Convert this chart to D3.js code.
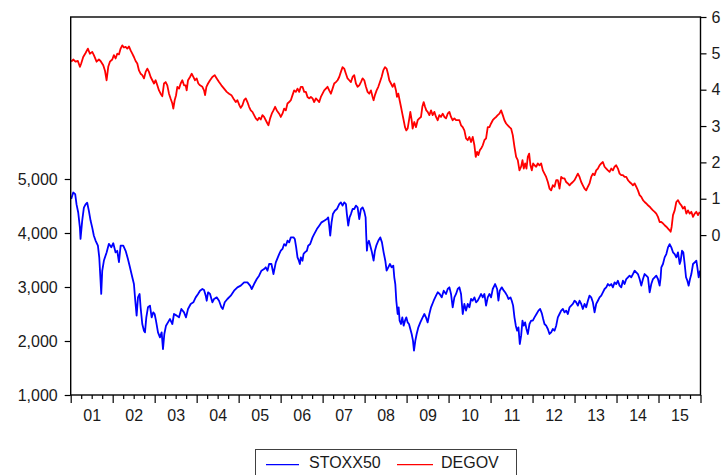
<!DOCTYPE html>
<html><head><meta charset="utf-8">
<script src="https://cdn.jsdelivr.net/npm/d3@7"></script>
<style>
body{margin:0;background:#fff;}
svg text{font-family:"Liberation Sans",Arial,sans-serif;}
</style>
</head><body>
<svg id="chart" width="721" height="475"></svg>
<script>
// ---- data (decimal years / values) ----
const stoxxDates = [
2001.012,2001.060,2001.107,2001.139,2001.179,2001.219,2001.234,2001.274,2001.314,2001.354,2001.393,2001.433,2001.473,2001.513,2001.552,2001.592,2001.648,2001.680,2001.711,2001.727,2001.751,2001.791,2001.855,2001.910,2001.966,
2002.014,2002.069,2002.109,2002.149,2002.189,2002.252,2002.308,2002.363,2002.411,2002.467,2002.506,2002.538,2002.570,2002.602,2002.641,2002.665,2002.705,2002.745,2002.769,2002.801,2002.840,2002.888,2002.928,2002.967,2002.999,
2003.031,2003.079,2003.126,2003.166,2003.198,2003.230,2003.270,2003.317,2003.365,2003.421,2003.460,2003.524,2003.580,2003.635,2003.699,2003.746,2003.794,2003.858,2003.921,2003.977,
2004.033,2004.080,2004.136,2004.176,2004.216,2004.240,2004.271,2004.319,2004.374,2004.414,2004.478,2004.533,2004.589,2004.621,2004.669,2004.732,2004.812,2004.891,2004.971,
2005.050,2005.130,2005.209,2005.273,2005.312,2005.368,2005.432,2005.487,2005.543,2005.606,2005.646,2005.686,2005.726,2005.781,2005.829,2005.885,2005.965,
2006.004,2006.044,2006.084,2006.124,2006.163,2006.203,2006.243,2006.307,2006.338,2006.370,2006.402,2006.434,2006.458,2006.481,2006.521,2006.545,2006.577,2006.625,2006.656,2006.704,2006.760,2006.799,2006.863,2006.919,2006.974,
2007.038,2007.101,2007.133,2007.157,2007.181,2007.213,2007.245,2007.292,2007.340,2007.396,2007.435,2007.475,2007.515,2007.555,2007.578,2007.610,2007.642,2007.674,2007.714,2007.753,2007.793,2007.833,2007.873,2007.912,2007.952,2007.992,
2008.024,2008.039,2008.055,2008.071,2008.103,2008.135,2008.175,2008.214,2008.246,2008.278,2008.326,2008.373,2008.413,2008.453,2008.493,2008.524,2008.564,2008.604,2008.644,2008.683,2008.707,2008.731,2008.755,2008.787,2008.811,2008.834,2008.866,2008.898,2008.930,2008.962,2008.993,
2009.025,2009.057,2009.089,2009.121,2009.152,2009.176,2009.208,2009.240,2009.280,2009.327,2009.383,2009.423,2009.462,2009.502,2009.542,2009.582,2009.645,2009.701,2009.741,2009.788,2009.836,2009.884,2009.939,2009.979,
2010.019,2010.058,2010.098,2010.138,2010.178,2010.217,2010.257,2010.297,2010.337,2010.376,2010.416,2010.456,2010.496,2010.535,2010.575,2010.615,2010.655,2010.694,2010.734,2010.774,2010.814,2010.853,2010.893,2010.933,2010.973,
2011.012,2011.052,2011.108,2011.156,2011.187,2011.219,2011.267,2011.315,2011.346,2011.394,2011.426,2011.474,2011.505,2011.537,2011.569,2011.601,2011.633,2011.664,2011.696,2011.728,2011.760,2011.791,2011.823,2011.855,2011.887,2011.927,2011.966,
2012.006,2012.046,2012.094,2012.141,2012.181,2012.221,2012.253,2012.284,2012.324,2012.364,2012.404,2012.443,2012.483,2012.523,2012.563,2012.602,2012.642,2012.682,2012.722,2012.761,2012.801,2012.841,2012.881,2012.920,2012.960,
2013.000,2013.040,2013.079,2013.119,2013.159,2013.198,2013.238,2013.278,2013.318,2013.357,2013.397,2013.437,2013.477,2013.516,2013.556,2013.596,2013.636,2013.675,2013.715,2013.755,2013.795,2013.834,2013.874,2013.914,2013.954,2013.993,
2014.033,2014.073,2014.113,2014.152,2014.192,2014.232,2014.272,2014.311,2014.351,2014.391,2014.431,2014.470,2014.510,2014.550,2014.590,2014.630,2014.669,2014.709,2014.749,2014.789,2014.828,2014.868,2014.908,2014.947,2014.987,
2015.027,2015.051,2015.067,2015.106,2015.146,2015.186,2015.226,2015.265,2015.305,2015.345,2015.385,2015.424,2015.464,2015.504,2015.528,2015.560,2015.591,2015.623,2015.655,2015.687,2015.718,2015.750,2015.782,2015.822,2015.862,2015.901,2015.925,2015.957,2015.989
];
const stoxxValues = [
4630,4750,4720,4530,4380,4100,3890,4230,4470,4530,4560,4410,4230,4100,3950,3860,3765,3550,3117,2871,3300,3490,3640,3800,3735,
3810,3640,3670,3460,3765,3765,3670,3520,3365,3180,3055,2746,2470,2808,2871,2624,2315,2191,2160,2438,2624,2655,2438,2530,2500,
2376,2160,2067,2160,1850,2130,2284,2345,2407,2315,2500,2470,2438,2593,2530,2438,2593,2686,2717,2808,
2871,2932,2963,2944,2840,2746,2902,2871,2717,2778,2808,2746,2624,2593,2717,2778,2840,2932,2994,
3025,3086,3086,3025,2963,3055,3148,3210,3302,3333,3365,3302,3426,3426,3240,3457,3610,
3672,3704,3795,3765,3857,3826,3919,3919,3888,3734,3549,3487,3426,3549,3487,3610,3642,3672,3765,3795,3919,3980,4073,4135,4197,
4228,4259,4290,4135,3950,4197,4351,4413,4444,4536,4567,4506,4567,4536,4351,4135,4290,4351,4444,4444,4506,4475,4259,4444,4475,4400,
4290,3950,3672,3795,3857,3765,3642,3487,3672,3765,3857,3919,3826,3642,3487,3302,3365,3426,3365,3395,3180,3055,2746,2500,2624,2376,2315,2438,2284,2376,2438,
2345,2315,2222,2130,2006,1820,2006,2130,2253,2345,2438,2500,2438,2345,2500,2624,2746,2840,2902,2871,2808,2932,2871,2963,
2994,2871,2624,2808,2871,2963,2994,2871,2500,2686,2562,2686,2624,2778,2746,2808,2717,2746,2808,2871,2808,2871,2655,2808,2871,
2808,2963,3055,2963,2746,2932,2994,2932,2902,2840,2778,2808,2746,2655,2438,2284,2191,2253,1944,2099,2376,2284,2345,2222,2130,2315,2376,
2376,2438,2500,2562,2593,2512,2407,2315,2284,2222,2130,2160,2222,2191,2284,2438,2500,2562,2593,2530,2562,2500,2624,2655,2686,
2746,2717,2655,2746,2686,2593,2686,2624,2746,2840,2808,2717,2530,2686,2746,2808,2840,2902,2963,2994,3055,3025,3055,2994,3086,3055,
3117,3025,2994,3117,3055,3148,3180,3210,3180,3240,3302,3271,3240,3148,3025,3148,3240,3210,3180,2902,3055,3148,3180,3210,3148,
3025,3180,3365,3426,3549,3610,3734,3795,3734,3642,3610,3549,3642,3426,3487,3672,3642,3426,3180,3117,3025,3148,3240,3426,3457,3487,3365,3180,3302
];
const degovDates = [
2001.012,2001.060,2001.115,2001.171,2001.219,2001.250,2001.298,2001.354,2001.409,2001.457,2001.513,2001.552,2001.616,2001.672,2001.711,2001.775,2001.815,2001.855,2001.894,2001.934,2001.990,
2002.029,2002.069,2002.109,2002.149,2002.189,2002.228,2002.268,2002.308,2002.348,2002.387,2002.427,2002.467,2002.506,2002.546,2002.586,2002.626,2002.665,2002.705,2002.745,2002.785,2002.825,2002.864,2002.904,2002.944,2002.984,
2003.023,2003.063,2003.103,2003.142,2003.182,2003.222,2003.262,2003.301,2003.341,2003.381,2003.421,2003.444,2003.476,2003.508,2003.540,2003.580,2003.619,2003.659,2003.699,2003.739,2003.762,2003.794,2003.842,2003.882,2003.921,2003.961,
2004.001,2004.040,2004.080,2004.136,2004.176,2004.200,2004.232,2004.271,2004.319,2004.374,2004.430,2004.478,2004.533,2004.589,2004.653,2004.716,2004.772,2004.828,2004.875,2004.931,2004.971,
2005.019,2005.050,2005.090,2005.130,2005.170,2005.209,2005.249,2005.289,2005.328,2005.368,2005.408,2005.448,2005.487,2005.527,2005.567,2005.606,2005.646,2005.686,2005.710,2005.750,2005.789,2005.829,2005.869,2005.909,2005.965,
2006.004,2006.044,2006.084,2006.124,2006.163,2006.203,2006.243,2006.283,2006.322,2006.362,2006.402,2006.442,2006.481,2006.521,2006.561,2006.601,2006.640,2006.680,2006.720,2006.760,2006.799,2006.839,2006.879,2006.919,2006.958,2006.998,
2007.038,2007.078,2007.117,2007.157,2007.197,2007.237,2007.276,2007.316,2007.356,2007.396,2007.435,2007.475,2007.515,2007.555,2007.594,2007.634,2007.674,2007.714,2007.753,2007.793,2007.833,2007.873,2007.912,2007.952,2007.992,
2008.032,2008.071,2008.111,2008.151,2008.191,2008.214,2008.246,2008.286,2008.326,2008.365,2008.405,2008.445,2008.485,2008.524,2008.556,2008.588,2008.628,2008.667,2008.707,2008.747,2008.771,2008.803,2008.834,2008.866,2008.898,2008.930,2008.962,2008.993,
2009.025,2009.065,2009.089,2009.121,2009.144,2009.184,2009.224,2009.264,2009.303,2009.343,2009.375,2009.407,2009.439,2009.470,2009.502,2009.542,2009.582,2009.621,2009.661,2009.701,2009.741,2009.780,2009.820,2009.860,2009.900,2009.939,2009.979,
2010.019,2010.058,2010.098,2010.138,2010.178,2010.217,2010.257,2010.297,2010.337,2010.376,2010.416,2010.456,2010.496,2010.535,2010.575,2010.615,2010.647,2010.679,2010.710,2010.742,2010.774,2010.814,2010.853,2010.893,2010.933,2010.973,
2011.012,2011.052,2011.092,2011.132,2011.171,2011.211,2011.251,2011.291,2011.330,2011.370,2011.410,2011.450,2011.489,2011.529,2011.569,2011.609,2011.648,2011.688,2011.728,2011.760,2011.791,2011.823,2011.855,2011.887,2011.919,2011.950,2011.982,
2012.014,2012.046,2012.086,2012.125,2012.165,2012.205,2012.245,2012.284,2012.324,2012.364,2012.404,2012.443,2012.483,2012.523,2012.563,2012.602,2012.642,2012.682,2012.722,2012.761,2012.801,2012.841,2012.881,2012.920,2012.960,
2013.000,2013.040,2013.079,2013.119,2013.159,2013.198,2013.238,2013.278,2013.318,2013.357,2013.397,2013.437,2013.477,2013.516,2013.556,2013.596,2013.636,2013.675,2013.715,2013.755,2013.795,2013.834,2013.874,2013.914,2013.954,2013.993,
2014.033,2014.073,2014.113,2014.152,2014.192,2014.232,2014.272,2014.311,2014.351,2014.391,2014.431,2014.470,2014.510,2014.550,2014.590,2014.630,2014.669,2014.709,2014.749,2014.789,2014.828,2014.868,2014.908,2014.947,2014.987,
2015.027,2015.067,2015.106,2015.146,2015.186,2015.226,2015.265,2015.289,2015.313,2015.345,2015.385,2015.424,2015.464,2015.504,2015.543,2015.583,2015.623,2015.663,2015.702,2015.742,2015.782,2015.822,2015.862,2015.901,2015.941,2015.981
];
const degovValues = [
4.77,4.83,4.77,4.79,4.63,4.72,4.90,5.01,5.13,4.99,5.04,4.95,4.77,4.83,4.79,4.67,4.53,4.26,4.63,4.77,4.83,
4.95,4.86,4.99,4.97,5.13,5.22,5.16,5.18,5.13,5.19,5.08,4.99,4.90,4.79,4.72,4.53,4.44,4.40,4.31,4.49,4.58,4.49,4.35,4.26,4.17,
4.26,4.12,3.98,3.89,3.82,4.17,4.21,4.12,3.89,3.75,3.62,3.48,3.71,3.84,4.08,4.03,4.17,4.26,4.12,4.12,3.98,4.26,4.35,4.44,4.35,4.26,
4.31,4.17,4.12,4.08,3.98,3.85,4.08,4.17,4.26,4.35,4.40,4.31,4.21,4.12,4.03,3.94,3.89,3.85,3.76,3.66,3.71,
3.57,3.50,3.57,3.71,3.76,3.66,3.53,3.43,3.39,3.30,3.21,3.16,3.23,3.18,3.30,3.25,3.16,3.07,3.02,3.21,3.34,3.43,3.53,3.43,3.34,
3.25,3.34,3.48,3.43,3.62,3.66,3.71,3.85,3.98,3.94,4.03,3.94,4.08,4.08,3.94,3.94,3.80,3.76,3.80,3.76,3.66,3.76,3.71,3.66,3.80,3.89,
3.98,4.03,4.08,3.98,3.89,4.03,4.17,4.21,4.26,4.35,4.49,4.62,4.58,4.44,4.31,4.26,4.21,4.35,4.40,4.17,4.08,4.12,4.21,4.31,4.26,
4.08,3.94,3.89,3.98,3.80,3.71,3.85,3.98,4.08,4.21,4.35,4.53,4.62,4.58,4.44,4.26,4.17,4.08,4.17,3.98,3.80,3.89,3.71,3.53,3.34,3.16,2.97,2.88,
2.93,3.21,3.39,3.16,2.93,3.11,2.97,3.16,3.21,3.25,3.53,3.66,3.53,3.43,3.39,3.30,3.43,3.30,3.39,3.25,3.16,3.30,3.25,3.34,3.25,3.21,3.34,
3.39,3.25,3.16,3.21,3.16,3.16,3.16,3.02,2.97,2.88,2.66,2.61,2.70,2.56,2.70,2.47,2.15,2.29,2.20,2.33,2.38,2.47,2.61,2.66,2.97,2.97,
3.07,3.16,3.21,3.25,3.30,3.34,3.43,3.30,3.16,3.07,3.02,2.97,2.93,2.75,2.43,2.15,2.06,1.78,1.88,2.06,1.83,1.97,1.83,2.15,2.24,1.92,1.78,
1.97,1.92,1.88,1.97,1.92,1.97,1.78,1.69,1.60,1.46,1.28,1.23,1.37,1.33,1.51,1.51,1.28,1.60,1.56,1.56,1.46,1.42,1.37,1.42,1.46,
1.51,1.60,1.69,1.60,1.46,1.37,1.28,1.23,1.33,1.42,1.60,1.69,1.65,1.78,1.83,1.92,1.97,2.01,1.88,1.83,1.78,1.74,1.83,1.78,1.88,1.92,
1.83,1.69,1.65,1.65,1.60,1.60,1.51,1.46,1.42,1.37,1.42,1.33,1.23,1.10,1.05,0.96,0.91,0.87,0.82,0.78,0.73,0.68,0.64,0.59,0.50,
0.36,0.36,0.32,0.27,0.23,0.18,0.13,0.09,0.23,0.55,0.68,0.91,0.96,0.87,0.82,0.73,0.78,0.59,0.68,0.59,0.64,0.50,0.59,0.64,0.55,0.64
];
const leftTicks = [1000, 2000, 3000, 4000, 5000];
const rightTicks = [0, 1, 2, 3, 4, 5, 6];
const yearLabels = ["01","02","03","04","05","06","07","08","09","10","11","12","13","14","15"];
const seriesNames = ["STOXX50", "DEGOV"];
const seriesColors = ["#0000ff", "#ff0000"];

if (stoxxDates.length !== stoxxValues.length || degovDates.length !== degovValues.length) {
  throw new Error("length mismatch " + stoxxDates.length + "/" + stoxxValues.length + " " + degovDates.length + "/" + degovValues.length);
}

// ---- layout ----
const L = 70.7, R = 700.5, T = 17, B = 395;
const svg = d3.select("#chart");
svg.append("rect").attr("width", 721).attr("height", 475).attr("fill", "#fff");

const x = d3.scaleLinear().domain([2001, 2016]).range([L, R]);
const yL = d3.scaleLinear().domain([1000, 8000]).range([B, T]);
const yR = d3.scaleLinear().domain([-4.4, 6]).range([B, T]);

svg.append("defs").append("clipPath").attr("id", "clip")
  .append("rect").attr("x", L).attr("y", T).attr("width", R - L).attr("height", B - T);

// lines
const stoxx = stoxxDates.map((d, i) => [d, stoxxValues[i]]);
const degov = degovDates.map((d, i) => [d, degovValues[i]]);
const g = svg.append("g").attr("clip-path", "url(#clip)");
g.append("path").datum(degov).attr("fill", "none").attr("stroke", seriesColors[1]).attr("stroke-width", 1.8)
  .attr("stroke-linejoin", "round")
  .attr("d", d3.line().x(d => x(d[0])).y(d => yR(d[1])));
g.append("path").datum(stoxx).attr("fill", "none").attr("stroke", seriesColors[0]).attr("stroke-width", 1.8)
  .attr("stroke-linejoin", "round")
  .attr("d", d3.line().x(d => x(d[0])).y(d => yL(d[1])));

// frame
svg.append("rect").attr("x", L).attr("y", T).attr("width", R - L).attr("height", B - T)
  .attr("fill", "none").attr("stroke", "#000").attr("stroke-width", 1.4);

function styleAxis(sel) {
  sel.select(".domain").remove();
  sel.selectAll(".tick line").attr("stroke", "#000").attr("stroke-width", 1.2);
  sel.selectAll("text").attr("font-size", 16).attr("fill", "#1a1a1a")
    .attr("font-family", "'Liberation Sans', Arial, sans-serif");
}

// left axis
svg.append("g").attr("transform", `translate(${L},0)`)
  .call(d3.axisLeft(yL).tickValues(leftTicks).tickSize(6).tickPadding(7).tickFormat(d3.format(",")))
  .call(styleAxis);

// right axis
svg.append("g").attr("transform", `translate(${R},0)`)
  .call(d3.axisRight(yR).tickValues(rightTicks).tickSize(6).tickPadding(5).tickFormat(d3.format("d")))
  .call(styleAxis);

// bottom axis: major year ticks, minor quarter ticks, centered labels
const years = d3.range(2001, 2017);
const quarters = [];
years.slice(0, -1).forEach(yy => { quarters.push(yy + 0.25, yy + 0.5, yy + 0.75); });
svg.append("g").attr("transform", `translate(0,${B})`)
  .call(d3.axisBottom(x).tickValues(years).tickSize(8).tickFormat(""))
  .call(styleAxis);
svg.append("g").attr("transform", `translate(0,${B})`)
  .call(d3.axisBottom(x).tickValues(quarters).tickSize(4).tickFormat(""))
  .call(styleAxis);
svg.append("g").attr("transform", `translate(0,${B})`)
  .call(d3.axisBottom(x).tickValues(years.slice(0, -1).map(v => v + 0.5)).tickSize(0).tickPadding(14.5)
    .tickFormat((d, i) => yearLabels[i]))
  .call(styleAxis)
  .call(s => s.selectAll(".tick line").remove());

// legend
const lg = svg.append("g");
lg.append("rect").attr("x", 255.5).attr("y", 449.5).attr("width", 261).attr("height", 40)
  .attr("fill", "#fff").attr("stroke", "#404040").attr("stroke-width", 1);
const legendItems = [
  { name: seriesNames[0], color: seriesColors[0], x1: 266, x2: 299, tx: 309 },
  { name: seriesNames[1], color: seriesColors[1], x1: 397, x2: 433, tx: 441 }
];
legendItems.forEach(it => {
  lg.append("line").attr("x1", it.x1).attr("x2", it.x2).attr("y1", 464.7).attr("y2", 464.7)
    .attr("stroke", it.color).attr("stroke-width", 1.3);
  lg.append("text").attr("x", it.tx).attr("y", 467.5).attr("font-size", 16).attr("fill", "#1a1a1a")
    .text(it.name);
});
</script>
</body></html>
